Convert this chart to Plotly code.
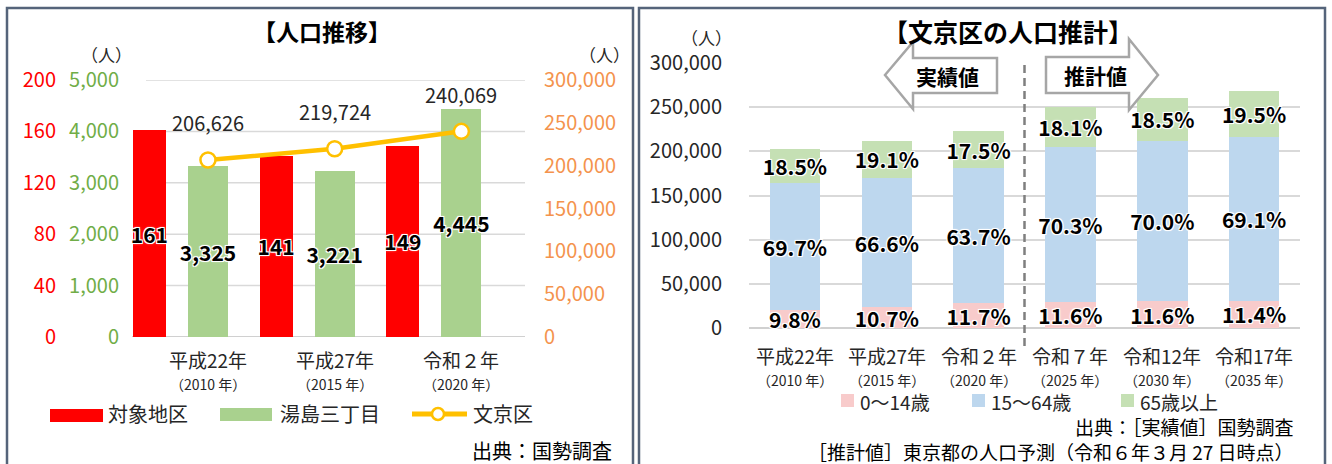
import plotly.graph_objects as go

W, H = 1332, 464
FONT = "Noto Sans CJK JP"

# ---------------- data ----------------
years_left = ["平成22年", "平成27年", "令和２年"]
years_left_sub = ["（2010 年）", "（2015 年）", "（2020 年）"]
taisho = [161, 141, 149]            # 対象地区
yushima = [3325, 3221, 4445]        # 湯島三丁目
bunkyo = [206626, 219724, 240069]   # 文京区

years_right = ["平成22年", "平成27年", "令和２年", "令和７年", "令和12年", "令和17年"]
years_right_sub = ["（2010 年）", "（2015 年）", "（2020 年）", "（2025 年）", "（2030 年）", "（2035 年）"]
age0_14 = [20249, 23510, 28088, 29023, 30160, 30586]
age15_64 = [144018, 146336, 152924, 175891, 182000, 185395]
age65 = [38226, 41967, 42012, 45286, 48100, 52319]
pct0_14 = ["9.8%", "10.7%", "11.7%", "11.6%", "11.6%", "11.4%"]
pct15_64 = ["69.7%", "66.6%", "63.7%", "70.3%", "70.0%", "69.1%"]
pct65 = ["18.5%", "19.1%", "17.5%", "18.1%", "18.5%", "19.5%"]

left_ticks_red = [0, 40, 80, 120, 160, 200]
left_ticks_green = [0, 1000, 2000, 3000, 4000, 5000]
right_ticks_orange = [0, 50000, 100000, 150000, 200000, 250000, 300000]
right_ticks_pop = [0, 50000, 100000, 150000, 200000, 250000, 300000]


def px(x):
    return x / W


def py(y):
    return 1 - y / H


RED = "#FF0000"
GREEN = "#A9D18E"
GREEN_T = "#70AD47"
ORANGE_T = "#F4934D"
LINE = "#FFC000"
PINK = "#F8CBCB"
BLUE = "#BDD7EE"
LGREEN = "#C5E0B4"
GRID = "#D9D9D9"
SHADOW = "-1px -1px 0 #fff, 1px -1px 0 #fff, -1px 1px 0 #fff, 1px 1px 0 #fff, 0 0 3px #fff"

fig = go.Figure()

idx_l = list(range(len(years_left)))
idx_r = list(range(len(years_right)))

bold_in = dict(family=FONT, size=21, color="#000000", weight="bold", shadow=SHADOW)

# left chart: bars
fig.add_trace(go.Bar(
    x=idx_l, y=taisho, xaxis="x", yaxis="y2", marker=dict(color=RED, line=dict(width=0)),
    width=0.26, offset=-0.592, text=[str(v) for v in taisho], textposition="inside",
    insidetextanchor="middle", constraintext="none", textangle=0, insidetextfont=bold_in,
    name="対象地区", showlegend=False))
fig.add_trace(go.Bar(
    x=idx_l, y=yushima, xaxis="x", yaxis="y", marker=dict(color=GREEN, line=dict(width=0)),
    width=0.316, offset=-0.158, text=[f"{v:,}" for v in yushima], textposition="inside",
    insidetextanchor="middle", constraintext="none", textangle=0, insidetextfont=bold_in,
    name="湯島三丁目", showlegend=False))
fig.add_trace(go.Scatter(
    x=idx_l, y=bunkyo, xaxis="x", yaxis="y3", mode="lines+markers",
    line=dict(color=LINE, width=4.5),
    marker=dict(size=15, color="white", line=dict(color=LINE, width=2.5)),
    name="文京区", showlegend=False, cliponaxis=False))

# right chart: stacked bars
for vals, labels, col, nm in [(age0_14, pct0_14, PINK, "0～14歳"),
                              (age15_64, pct15_64, BLUE, "15～64歳"),
                              (age65, pct65, LGREEN, "65歳以上")]:
    fig.add_trace(go.Bar(
        x=idx_r, y=vals, xaxis="x2", yaxis="y4", marker=dict(color=col, line=dict(width=0)),
        width=0.55, text=labels, textposition="inside", insidetextanchor="middle",
        constraintext="none", textangle=0, insidetextfont=bold_in, cliponaxis=False,
        name=nm, showlegend=False))

ydom_l = [py(337), py(80)]
ydom_r = [py(328), py(63)]

tickfont = dict(family=FONT, size=20)
fig.update_layout(
    template="none",
    width=W, height=H, margin=dict(l=0, r=0, t=0, b=0, pad=0, autoexpand=False),
    paper_bgcolor="white", plot_bgcolor="rgba(0,0,0,0)",
    barmode="stack", showlegend=False,
    font=dict(family=FONT, color="#262626"),
    xaxis=dict(domain=[px(128), px(525)], range=[-0.631, 2.502], visible=False, fixedrange=True,
               automargin=False),
    yaxis=dict(domain=ydom_l, range=[0, 5000], tickvals=left_ticks_green, tickformat=",",
               anchor="free", position=px(119), showgrid=False, zeroline=False, showline=False,
               ticks="", automargin=False, tickfont=dict(tickfont, color=GREEN_T)),
    yaxis2=dict(overlaying="y", range=[0, 200], tickvals=left_ticks_red,
                anchor="free", position=px(56), side="left", showgrid=False, zeroline=False,
                showline=False, ticks="", automargin=False, tickfont=dict(tickfont, color=RED)),
    yaxis3=dict(overlaying="y", range=[0, 300000], tickvals=right_ticks_orange, tickformat=",",
                anchor="free", position=px(543), side="right", showgrid=False, zeroline=False,
                showline=False, ticks="", automargin=False, tickfont=dict(tickfont, color=ORANGE_T)),
    xaxis2=dict(domain=[px(749), px(1300)], range=[-0.5, 5.5], anchor="y4", visible=False,
                automargin=False),
    yaxis4=dict(domain=ydom_r, range=[0, 300000], tickvals=right_ticks_pop, tickformat=",",
                anchor="x2", showgrid=True, gridcolor=GRID, gridwidth=1.5, zeroline=True,
                zerolinecolor="#D0D0D0", zerolinewidth=2, showline=False, ticks="",
                ticklabelstandoff=26, automargin=False, tickfont=dict(tickfont, color="#262626")),
)

shapes = []
# left gridlines
for v in left_ticks_green[1:]:
    shapes.append(dict(type="line", xref="paper", yref="y", x0=px(146), x1=px(525), y0=v, y1=v,
                       line=dict(color=GRID, width=1.5), layer="below"))
shapes.append(dict(type="line", xref="paper", yref="y", x0=px(132), x1=px(525), y0=0, y1=0,
                   line=dict(color="#D0D0D0", width=2), layer="below"))
# frames
shapes.append(dict(type="rect", xref="paper", yref="paper", x0=px(7), x1=px(633), y0=py(475), y1=py(8),
                   line=dict(color="#55647A", width=2.5)))
shapes.append(dict(type="rect", xref="paper", yref="paper", x0=px(639), x1=px(1325), y0=py(475), y1=py(8),
                   line=dict(color="#55647A", width=2.5)))
# dashed divider between actual and projected
shapes.append(dict(type="line", xref="x2", yref="paper", x0=2.5, x1=2.5, y0=py(346), y1=py(60),
                   line=dict(color="#7F7F7F", width=2.5, dash="8px,5px")))


def path(pts):
    return "M " + " L ".join(f"{px(a):.5f},{py(b):.5f}" for a, b in pts) + " Z"


shapes.append(dict(type="path", xref="paper", yref="paper",
                   path=path([(885, 75), (913, 42), (913, 58), (997, 58), (997, 93), (913, 93), (913, 109)]),
                   fillcolor="white", line=dict(color="#A6A6A6", width=2.5)))
shapes.append(dict(type="path", xref="paper", yref="paper",
                   path=path([(1046, 57), (1129, 57), (1129, 39), (1158, 75), (1129, 110), (1129, 93), (1046, 93)]),
                   fillcolor="white", line=dict(color="#A6A6A6", width=2.5)))

# left legend swatches
shapes.append(dict(type="rect", xref="paper", yref="paper", x0=px(50), x1=px(103), y0=py(422), y1=py(409),
                   fillcolor=RED, line=dict(width=0)))
shapes.append(dict(type="rect", xref="paper", yref="paper", x0=px(220), x1=px(272), y0=py(421), y1=py(408),
                   fillcolor=GREEN, line=dict(width=0)))
shapes.append(dict(type="line", xref="paper", yref="paper", x0=px(412), x1=px(467), y0=py(414), y1=py(414),
                   line=dict(color=LINE, width=5)))
shapes.append(dict(type="circle", xref="paper", yref="paper", x0=px(432), x1=px(444), y0=py(420), y1=py(408),
                   fillcolor="white", line=dict(color=LINE, width=2.5)))
# right legend swatches
for x0, col in [(841, PINK), (972, BLUE), (1121, LGREEN)]:
    shapes.append(dict(type="rect", xref="paper", yref="paper", x0=px(x0), x1=px(x0 + 13), y0=py(407),
                       y1=py(394), fillcolor=col, line=dict(width=0)))

fig.update_layout(shapes=shapes)

ann = []


def text(x, y, s, size, color="#262626", bold=False, xanchor="center", xref="paper", align="center",
         yanchor="middle"):
    ann.append(dict(x=x if xref != "paper" else px(x), y=py(y), xref=xref, yref="paper", text=s,
                    showarrow=False, xanchor=xanchor, yanchor=yanchor, align=align,
                    font=dict(family=FONT, size=size, color=color, weight="bold" if bold else "normal")))


# titles
text(322, 31, "【人口推移】", 23, "#000000", True)
text(1008, 31, "【文京区の人口推計】", 25, "#000000", True)
# unit labels
text(107, 54, "（人）", 17)
text(604, 54, "（人）", 17)
text(706, 38, "（人）", 17)
# arrow labels
text(947, 76, "実績値", 21, "#000000", True)
text(1095, 75, "推計値", 21, "#000000", True)

# line value labels
for i, v in enumerate(bunkyo):
    ann.append(dict(x=i, y=v, xref="x", yref="y3", text=f"{v:,}", showarrow=False, yshift=37,
                    font=dict(family=FONT, size=20, color="#262626")))

# category labels (two lines in one text; base size sets the line spacing)
for i, (a, b) in enumerate(zip(years_left, years_left_sub)):
    text(i, 370, f"<span style='font-size:19px'>{a}</span><br><span style='font-size:14px'>{b}</span>",
         17.2, xref="x")
for i, (a, b) in enumerate(zip(years_right, years_right_sub)):
    text(i, 365.5, f"<span style='font-size:19px'>{a}</span><br><span style='font-size:14px'>{b}</span>",
         17.2, xref="x2")

# legends text
text(106, 413, "対象地区", 20, xanchor="left")
text(278, 413, "湯島三丁目", 20, xanchor="left")
text(471, 413, "文京区", 20, xanchor="left")
text(858, 401, "0～14歳", 19, xanchor="left")
text(989, 401, "15～64歳", 19, xanchor="left")
text(1138, 401, "65歳以上", 19, xanchor="left")

# sources
text(614, 450, "出典：国勢調査", 20, "#000000", xanchor="right")
text(1296, 439, "出典：［実績値］国勢調査<br>［推計値］東京都の人口予測（令和６年３月 27 日時点）", 19, "#000000",
     xanchor="right", align="right")

fig.update_layout(annotations=ann)

fig.write_html("out.html", config={"displayModeBar": False},
               post_script="document.body.style.margin='0px';document.body.style.overflow='hidden';")
